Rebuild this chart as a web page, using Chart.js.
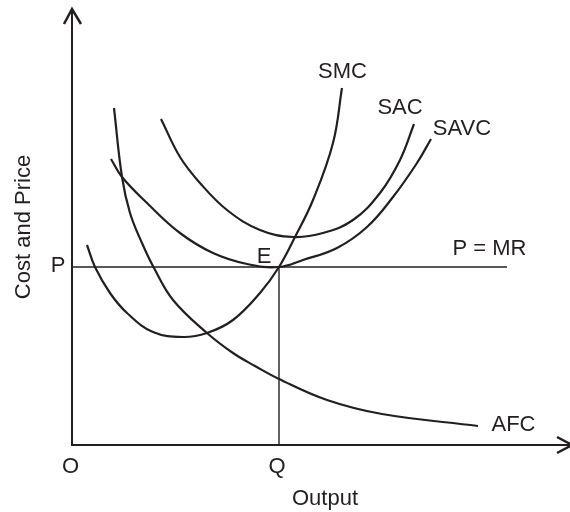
<!DOCTYPE html>
<html>
<head>
<meta charset="utf-8">
<script src="https://cdn.jsdelivr.net/npm/chart.js@4.4.1/dist/chart.umd.min.js"></script>
<style>
    html, body { margin: 0; padding: 0; background: #ffffff; }
    canvas { display: block; }
</style>
</head>
<body>
<canvas id="costChart" width="570" height="512"></canvas>
<script>
// Curves, as [output, cost] pairs
var smcCurve = [[1.5, 20.0], [2.3, 17.8], [3.8, 15.2], [5.5, 13.2], [8.1, 11.3], [11.1, 10.8],
    [13.5, 11.2], [16.1, 12.5], [18.8, 15.2], [20.7, 17.8], [22.3, 20.8], [24.1, 24.5],
    [26.1, 30.2], [27.0, 35.7]];
var sacCurve = [[8.9, 32.6], [10.8, 28.8], [12.8, 26.2], [15.5, 23.5], [18.8, 21.5], [22.1, 20.8],
    [25.1, 21.2], [28.1, 22.5], [30.8, 25.2], [32.8, 28.5], [34.2, 32.1]];
var savcCurve = [[3.9, 28.6], [5.0, 26.8], [7.5, 24.2], [10.8, 21.2], [14.1, 19.2], [17.5, 18.1],
    [20.7, 17.8], [23.1, 18.5], [26.5, 19.7], [29.5, 21.8], [32.1, 24.8], [34.5, 28.2], [35.9, 30.6]];
var afcCurve = [[4.2, 33.7], [5.0, 26.8], [5.8, 23.2], [7.0, 20.2], [8.2, 17.7],
    [10.1, 14.5], [13.5, 11.2], [16.1, 9.2], [18.3, 7.9], [20.7, 6.6], [25.5, 4.5],
    [31.0, 3.1], [40.6, 1.9]];

// price line P = MR and equilibrium output Q
var priceP = 17.8;
var outputQ = 20.7;
var priceLineEnd = 43.5;

// axis ranges (output, cost)
var xMax = 49.8;
var yMax = 43.6;

// text labels: [text, output, cost]
var labels = [
    ['SMC', 27.05, 37.5],
    ['SAC', 32.8, 33.85],
    ['SAVC', 39.0, 31.75],
    ['P = MR', 41.75, 19.75],
    ['E', 19.2, 19.0],
    ['AFC', 44.15, 2.2],
    ['P', -1.4, 18.05],
    ['O', -0.15, -2.05],
    ['Q', 20.5, -2.0],
    ['Output', 25.3, -5.2]
];
var yTitle = ['Cost and Price', -5.0, 21.8];

var ink = '#231f20';
var fontSize = 22;
var fontFamily = '"Liberation Sans", Arial, Helvetica, sans-serif';

function toPoints(arr) {
    return arr.map(function (p) { return { x: p[0], y: p[1] }; });
}

function curve(arr) {
    return {
        data: toPoints(arr),
        borderColor: ink,
        borderWidth: 2.2,
        pointRadius: 0,
        fill: false,
        tension: 0.4
    };
}

function straight(points) {
    return {
        data: points,
        borderColor: ink,
        borderWidth: 1.4,
        pointRadius: 0,
        fill: false,
        tension: 0
    };
}

// Draws the arrowed axes and the text labels
var diagramPlugin = {
    id: 'diagram',
    afterDatasetsDraw: function (chart) {
        var ctx = chart.ctx;
        var xs = chart.scales.x;
        var ys = chart.scales.y;
        var ox = xs.getPixelForValue(0);
        var oy = ys.getPixelForValue(0);
        var top = ys.getPixelForValue(yMax);
        var right = xs.getPixelForValue(xMax) + 2;

        ctx.save();
        ctx.strokeStyle = ink;
        ctx.lineWidth = 2;
        ctx.beginPath();
        ctx.moveTo(ox, top);
        ctx.lineTo(ox, oy);
        ctx.lineTo(right, oy);
        ctx.stroke();

        // arrow heads
        ctx.lineWidth = 2.5;
        ctx.beginPath();
        ctx.moveTo(ox - 8, top + 15);
        ctx.lineTo(ox, top);
        ctx.lineTo(ox + 9, top + 15);
        ctx.moveTo(right - 15, oy - 8);
        ctx.lineTo(right, oy);
        ctx.lineTo(right - 15, oy + 8);
        ctx.stroke();

        ctx.fillStyle = ink;
        ctx.font = fontSize + 'px ' + fontFamily;
        ctx.textAlign = 'center';
        ctx.textBaseline = 'alphabetic';
        labels.forEach(function (l) {
            ctx.fillText(l[0], xs.getPixelForValue(l[1]), ys.getPixelForValue(l[2]) + fontSize * 0.36);
        });

        ctx.translate(xs.getPixelForValue(yTitle[1]), ys.getPixelForValue(yTitle[2]));
        ctx.rotate(-Math.PI / 2);
        ctx.fillText(yTitle[0], 0, fontSize * 0.36);
        ctx.restore();
    }
};

var ctxC = document.getElementById('costChart').getContext('2d');
window.costChart = new Chart(ctxC, {
    type: 'line',
    data: {
        datasets: [
            curve(smcCurve),
            curve(sacCurve),
            curve(savcCurve),
            curve(afcCurve),
            straight([{ x: 0, y: priceP }, { x: priceLineEnd, y: priceP }]),
            straight([{ x: outputQ, y: 0 }, { x: outputQ, y: priceP }])
        ]
    },
    options: {
        responsive: false,
        animation: false,
        devicePixelRatio: 1,
        layout: {
            padding: { left: 72, right: 0, top: 9, bottom: 67 }
        },
        scales: {
            x: { type: 'linear', min: 0, max: xMax, display: false },
            y: { type: 'linear', min: 0, max: yMax, display: false }
        },
        plugins: {
            legend: { display: false },
            tooltip: { enabled: false }
        }
    },
    plugins: [diagramPlugin]
});
</script>
</body>
</html>
